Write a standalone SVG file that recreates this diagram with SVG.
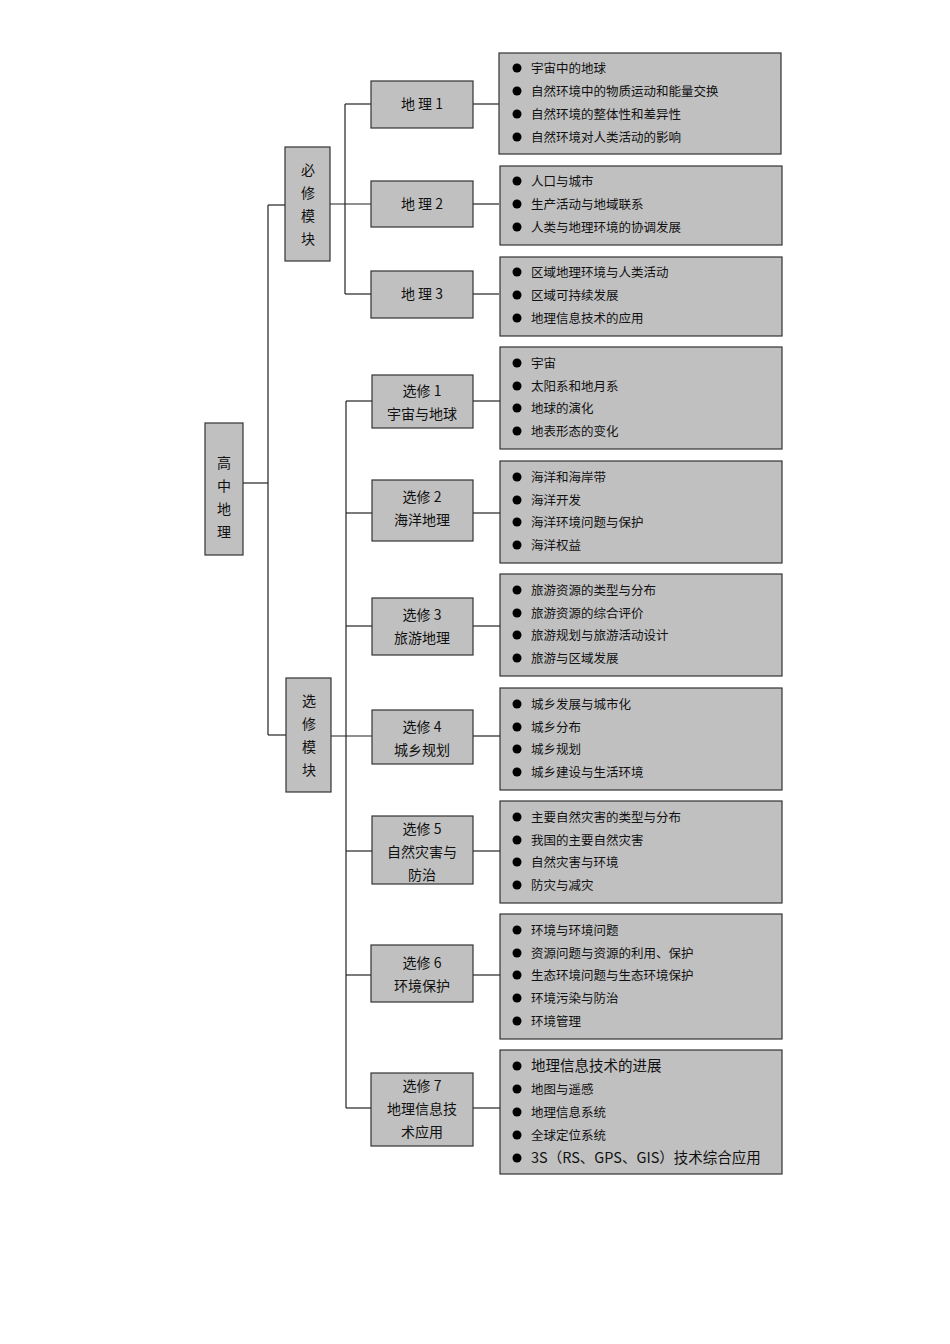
<svg xmlns="http://www.w3.org/2000/svg" width="950" height="1344" viewBox="0 0 950 1344">
<style>
.b{fill:#c0c0c0;stroke:#333;stroke-width:1.2}
.s{fill:#888}
text{font-family:"Noto Sans CJK SC","Liberation Sans",sans-serif;fill:#111}
.n{font-size:14px;text-anchor:middle}
.t{font-size:12.5px}
.c line{stroke:#222;stroke-width:1.2}
</style>
<rect width="950" height="1344" fill="#fff"/>
<g class="c">
<line x1="243" y1="483" x2="268" y2="483"/>
<line x1="268" y1="205" x2="268" y2="735"/>
<line x1="268" y1="205" x2="285" y2="205"/>
<line x1="268" y1="735" x2="286" y2="735"/>
<line x1="330" y1="204" x2="371" y2="204"/>
<line x1="345" y1="104" x2="345" y2="294"/>
<line x1="345" y1="104" x2="371" y2="104"/>
<line x1="345" y1="294" x2="371" y2="294"/>
<line x1="473" y1="104" x2="499" y2="104"/>
<line x1="473" y1="204" x2="499" y2="204"/>
<line x1="473" y1="294" x2="499" y2="294"/>
<line x1="331" y1="736" x2="372" y2="736"/>
<line x1="346" y1="401" x2="346" y2="1108"/>
<line x1="346" y1="401" x2="372" y2="401"/>
<line x1="346" y1="513" x2="372" y2="513"/>
<line x1="346" y1="626" x2="372" y2="626"/>
<line x1="346" y1="851" x2="372" y2="851"/>
<line x1="346" y1="975" x2="371" y2="975"/>
<line x1="346" y1="1108" x2="371" y2="1108"/>
<line x1="473" y1="401" x2="500" y2="401"/>
<line x1="473" y1="513" x2="500" y2="513"/>
<line x1="473" y1="626" x2="500" y2="626"/>
<line x1="473" y1="736" x2="500" y2="736"/>
<line x1="473" y1="851" x2="500" y2="851"/>
<line x1="473" y1="975" x2="500" y2="975"/>
<line x1="473" y1="1108" x2="500" y2="1108"/>
</g>
<g id="root"><rect class="b" x="205" y="423" width="38" height="132"/>
<text class="n" x="224" y="468">高</text><text class="n" x="224" y="491">中</text><text class="n" x="224" y="514">地</text><text class="n" x="224" y="537">理</text></g>
<g id="bixiu"><rect class="b" x="285" y="147" width="45" height="114"/>
<text class="n" x="308" y="175">必</text><text class="n" x="308" y="198">修</text><text class="n" x="308" y="221">模</text><text class="n" x="308" y="244">块</text></g>
<g id="xuanxiu"><rect class="b" x="286" y="678" width="45" height="114"/>
<text class="n" x="309" y="706">选</text><text class="n" x="309" y="729">修</text><text class="n" x="309" y="752">模</text><text class="n" x="309" y="775">块</text></g>
<g id="dl1"><rect class="b" x="371" y="81" width="102" height="47"/><text class="n" x="422" y="109">地  理  1</text></g>
<g id="dl2"><rect class="b" x="371" y="181" width="102" height="46"/><text class="n" x="422" y="209">地  理  2</text></g>
<g id="dl3"><rect class="b" x="371" y="271" width="102" height="47"/><text class="n" x="422" y="299">地  理  3</text></g>
<g id="x1"><rect class="b" x="372" y="375" width="101" height="53"/><text class="n" x="422" y="396">选修 1</text><text class="n" x="422" y="419">宇宙与地球</text></g>
<g id="x2"><rect class="b" x="372" y="480" width="101" height="61"/><text class="n" x="422" y="502">选修 2</text><text class="n" x="422" y="525">海洋地理</text></g>
<g id="x3"><rect class="b" x="372" y="598" width="101" height="57"/><text class="n" x="422" y="620">选修 3</text><text class="n" x="422" y="643">旅游地理</text></g>
<g id="x4"><rect class="b" x="372" y="710" width="101" height="54"/><text class="n" x="422" y="732">选修 4</text><text class="n" x="422" y="755">城乡规划</text></g>
<g id="x5"><rect class="b" x="372" y="816" width="101" height="68"/><text class="n" x="422" y="834">选修 5</text><text class="n" x="422" y="857">自然灾害与</text><text class="n" x="422" y="880">防治</text></g>
<g id="x6"><rect class="b" x="371" y="945" width="102" height="57"/><text class="n" x="422" y="968">选修 6</text><text class="n" x="422" y="991">环境保护</text></g>
<g id="x7"><rect class="b" x="371" y="1073" width="102" height="73"/><text class="n" x="422" y="1091">选修 7</text><text class="n" x="422" y="1114">地理信息技</text><text class="n" x="422" y="1137">术应用</text></g>
<g id="c1"><rect class="b" x="499" y="53" width="282" height="101"/>
<circle cx="517" cy="68" r="4.5"/><text class="t" x="531" y="73">宇宙中的地球</text>
<circle cx="517" cy="91" r="4.5"/><text class="t" x="531" y="96">自然环境中的物质运动和能量交换</text>
<circle cx="517" cy="114" r="4.5"/><text class="t" x="531" y="119">自然环境的整体性和差异性</text>
<circle cx="517" cy="137" r="4.5"/><text class="t" x="531" y="142">自然环境对人类活动的影响</text></g>
<g id="c2"><rect class="b" x="500" y="166" width="282" height="79"/>
<circle cx="517" cy="181" r="4.5"/><text class="t" x="531" y="186">人口与城市</text>
<circle cx="517" cy="204" r="4.5"/><text class="t" x="531" y="209">生产活动与地域联系</text>
<circle cx="517" cy="227" r="4.5"/><text class="t" x="531" y="232">人类与地理环境的协调发展</text></g>
<g id="c3"><rect class="b" x="500" y="257" width="282" height="79"/>
<circle cx="517" cy="272" r="4.5"/><text class="t" x="531" y="277">区域地理环境与人类活动</text>
<circle cx="517" cy="295" r="4.5"/><text class="t" x="531" y="300">区域可持续发展</text>
<circle cx="517" cy="318" r="4.5"/><text class="t" x="531" y="323">地理信息技术的应用</text></g>
<g id="c4"><rect class="b" x="500" y="347" width="282" height="102"/>
<circle cx="517" cy="363" r="4.5"/><text class="t" x="531" y="368">宇宙</text>
<circle cx="517" cy="386" r="4.5"/><text class="t" x="531" y="391">太阳系和地月系</text>
<circle cx="517" cy="408" r="4.5"/><text class="t" x="531" y="413">地球的演化</text>
<circle cx="517" cy="431" r="4.5"/><text class="t" x="531" y="436">地表形态的变化</text></g>
<g id="c5"><rect class="b" x="500" y="461" width="282" height="102"/>
<circle cx="517" cy="477" r="4.5"/><text class="t" x="531" y="482">海洋和海岸带</text>
<circle cx="517" cy="500" r="4.5"/><text class="t" x="531" y="505">海洋开发</text>
<circle cx="517" cy="522" r="4.5"/><text class="t" x="531" y="527">海洋环境问题与保护</text>
<circle cx="517" cy="545" r="4.5"/><text class="t" x="531" y="550">海洋权益</text></g>
<g id="c6"><rect class="b" x="500" y="574" width="282" height="102"/>
<circle cx="517" cy="590" r="4.5"/><text class="t" x="531" y="595">旅游资源的类型与分布</text>
<circle cx="517" cy="613" r="4.5"/><text class="t" x="531" y="618">旅游资源的综合评价</text>
<circle cx="517" cy="635" r="4.5"/><text class="t" x="531" y="640">旅游规划与旅游活动设计</text>
<circle cx="517" cy="658" r="4.5"/><text class="t" x="531" y="663">旅游与区域发展</text></g>
<g id="c7"><rect class="b" x="500" y="688" width="282" height="102"/>
<circle cx="517" cy="704" r="4.5"/><text class="t" x="531" y="709">城乡发展与城市化</text>
<circle cx="517" cy="727" r="4.5"/><text class="t" x="531" y="732">城乡分布</text>
<circle cx="517" cy="749" r="4.5"/><text class="t" x="531" y="754">城乡规划</text>
<circle cx="517" cy="772" r="4.5"/><text class="t" x="531" y="777">城乡建设与生活环境</text></g>
<g id="c8"><rect class="b" x="500" y="801" width="282" height="102"/>
<circle cx="517" cy="817" r="4.5"/><text class="t" x="531" y="822">主要自然灾害的类型与分布</text>
<circle cx="517" cy="840" r="4.5"/><text class="t" x="531" y="845">我国的主要自然灾害</text>
<circle cx="517" cy="862" r="4.5"/><text class="t" x="531" y="867">自然灾害与环境</text>
<circle cx="517" cy="885" r="4.5"/><text class="t" x="531" y="890">防灾与减灾</text></g>
<g id="c9"><rect class="b" x="500" y="914" width="282" height="125"/>
<circle cx="517" cy="930" r="4.5"/><text class="t" x="531" y="935">环境与环境问题</text>
<circle cx="517" cy="953" r="4.5"/><text class="t" x="531" y="958">资源问题与资源的利用、保护</text>
<circle cx="517" cy="975" r="4.5"/><text class="t" x="531" y="980">生态环境问题与生态环境保护</text>
<circle cx="517" cy="998" r="4.5"/><text class="t" x="531" y="1003">环境污染与防治</text>
<circle cx="517" cy="1021" r="4.5"/><text class="t" x="531" y="1026">环境管理</text></g>
<g id="c10"><rect class="b" x="500" y="1050" width="282" height="124"/>
<circle cx="517" cy="1066" r="4.5"/><text class="t" x="531" y="1071" style="font-size:14.5px">地理信息技术的进展</text>
<circle cx="517" cy="1089" r="4.5"/><text class="t" x="531" y="1094">地图与遥感</text>
<circle cx="517" cy="1112" r="4.5"/><text class="t" x="531" y="1117">地理信息系统</text>
<circle cx="517" cy="1135" r="4.5"/><text class="t" x="531" y="1140">全球定位系统</text>
<circle cx="517" cy="1158" r="4.5"/><text class="t" x="531" y="1163" style="font-size:14.5px">3S（RS、GPS、GIS）技术综合应用</text></g>
</svg>
